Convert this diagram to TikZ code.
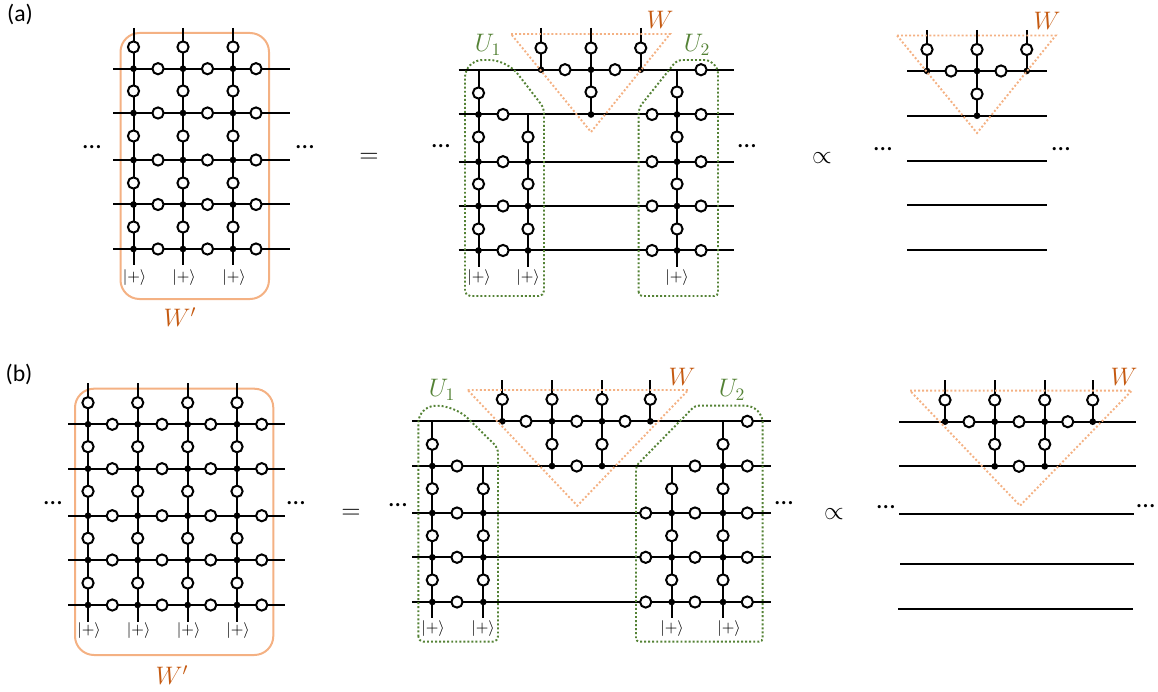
\documentclass[tikz,border=0pt]{standalone}
\usepackage{fontspec}
\setmainfont{Carlito}
\usetikzlibrary{positioning}
\definecolor{wlabel}{HTML}{C55A11}
\definecolor{wline}{HTML}{F4B183}
\definecolor{uline}{HTML}{548235}
\tikzset{
  wire/.style={line width=0.04cm,black},
  dot/.style={circle,fill=black,inner sep=0pt,minimum size=3.8pt},
  hollow/.style={circle,draw=black,fill=white,line width=0.04cm,inner sep=0pt,minimum size=6.4pt},
  wbox/.style={wline,line width=0.04cm,rounded corners=0.38cm},
  wtri/.style={wline,line width=1.1pt,dash pattern=on 1.1pt off 1.2pt},
  ubox/.style={uline,line width=1.1pt,dash pattern=on 1.1pt off 1.2pt},
  ket/.style={inner sep=0pt,font=\fontsize{9}{10}\selectfont},
  wname/.style={inner sep=0pt,text=wlabel,font=\fontsize{14.5}{17}\selectfont},
  uname/.style={inner sep=0pt,text=uline,font=\fontsize{14}{17}\selectfont},
  rel/.style={inner sep=0pt,font=\fontsize{13.5}{15}\selectfont},
  more/.style={inner sep=0pt,font=\fontsize{15}{17}\selectfont},
}
\begin{document}
\begin{tikzpicture}[x=0.02cm,y=-0.02cm]
    \useasboundingbox (0,0) rectangle (1158,692);

    \node [rel] (la) at (20,14) {(a)};
    \node [rel] (lb) at (19,374) {(b)};

    % (a) left
    \draw [wbox] (120.5,33) rectangle (269,299);
    \foreach \y [count=\i] in {68.7,113,160,204.5,249} {
        \coordinate (A1l\i) at (113,\y);
        \coordinate (A1r\i) at (290,\y);
        \draw [wire] (A1l\i) -- (A1r\i);
    }
    \foreach \x [count=\i] in {133.5,183,233} {
        \coordinate (A1t\i) at (\x,28);
        \coordinate (A1b\i) at (\x,265);
        \draw [wire] (A1t\i) -- (A1b\i);
        \node [ket] (A1k\i) at (\x+1,278) {$|{+}\rangle$};
        \foreach \y [count=\j] in {68.7,113,160,204.5,249}
            \node [dot] (A1d\i\j) at (\x,\y) {};
        \foreach \y [count=\j] in {47,91,136,183,227}
            \node [hollow] (A1v\i\j) at (\x,\y) {};
    }
    \foreach \x [count=\i] in {158,207.5,256}
        \foreach \y [count=\j] in {68.7,113,160,204.5,249}
            \node [hollow] (A1h\i\j) at (\x,\y) {};
    \node [wname] (A1w) at (180,317) {$W'$};
    \node [more] (A1m1) at (92,147) {…};
    \node [more] (A1m2) at (305,147) {…};
    \node [rel] (A1eq) at (369,158) {$=$};

    % (a) middle
    \foreach \y [count=\i] in {69.7,114.5,161.7,206,250.5} {
        \coordinate (A2l\i) at (458.5,\y);
        \coordinate (A2r\i) at (734,\y);
        \draw [wire] (A2l\i) -- (A2r\i);
    }
    \foreach \x/\ya/\yb [count=\i] in {478.5/69.7/267,528/114.5/267,541/28/69.7,591/28/114.5,640.7/28/69.7,677/69.7/267} {
        \coordinate (A2t\i) at (\x,\ya);
        \coordinate (A2b\i) at (\x,\yb);
        \draw [wire] (A2t\i) -- (A2b\i);
    }
    \foreach \x/\y [count=\i] in {478.5/114.5,478.5/161.7,478.5/206,478.5/250.5,528/161.7,528/206,528/250.5,541/69.7,591/69.7,640.7/69.7,591/114.5,677/114.5,677/161.7,677/206,677/250.5}
        \node [dot] (A2d\i) at (\x,\y) {};
    \foreach \x/\y [count=\i] in {478.5/93,478.5/137,478.5/184,478.5/229,528/137,528/184,528/229,541/48,591/48,591/92,640.7/48,677/92,677/137,677/184,677/229,503/114.5,503/161.7,503/206,503/250.5,565/69.7,615/69.7,652/114.5,652/161.7,652/206,652/250.5,701/69.7,701/114.5,701/161.7,701/206,701/250.5}
        \node [hollow] (A2h\i) at (\x,\y) {};
    \node [ket] (A2k1) at (479,278) {$|{+}\rangle$};
    \node [ket] (A2k2) at (528,278) {$|{+}\rangle$};
    \node [ket] (A2k3) at (677,278) {$|{+}\rangle$};
    \coordinate (A2a) at (511,34);
    \coordinate (A2b) at (670,34);
    \coordinate (A2c) at (591,132);
    \draw [wtri] (A2a) -- (A2b) -- (A2c) -- cycle;
    \draw [ubox] (465,296) [rounded corners=10pt] -- (465,60) -- (507,60) [rounded corners=3pt] -- (544,108) -- (544,296) -- cycle;
    \draw [ubox] (638.7,296) [rounded corners=3pt] -- (638.7,108) -- (677,60) [rounded corners=8pt] -- (718,60) [rounded corners=2pt] -- (718,296) -- cycle;
    \node [wname] (A2w) at (660,20) {$W$};
    \node [uname] (A2u1) at (488,45) {$U_1$};
    \node [uname] (A2u2) at (697,45) {$U_2$};
    \node [more] (A2m1) at (441,146) {…};
    \node [more] (A2m2) at (747,146) {…};
    \node [rel] (A2pr) at (822,158) {$\propto$};

    % (a) right
    \foreach \y [count=\i] in {71,115.7,160.7,205.3,250.3} {
        \coordinate (A3l\i) at (907,\y);
        \coordinate (A3r\i) at (1047,\y);
        \draw [wire] (A3l\i) -- (A3r\i);
    }
    \foreach \x/\yb [count=\i] in {927/71,977/115.7,1026.7/71} {
        \coordinate (A3t\i) at (\x,30);
        \coordinate (A3b\i) at (\x,\yb);
        \draw [wire] (A3t\i) -- (A3b\i);
        \node [dot] (A3d\i) at (\x,71) {};
        \node [hollow] (A3v\i) at (\x,49.5) {};
    }
    \node [dot] (A3d4) at (977,115.7) {};
    \node [hollow] (A3h1) at (977,94) {};
    \node [hollow] (A3h2) at (951,71) {};
    \node [hollow] (A3h3) at (1001,71) {};
    \coordinate (A3a) at (897,35.5);
    \coordinate (A3b) at (1055.7,35.5);
    \coordinate (A3c) at (977,133);
    \draw [wtri] (A3a) -- (A3b) -- (A3c) -- cycle;
    \node [wname] (A3w) at (1047,21) {$W$};
    \node [more] (A3m1) at (883,149) {…};
    \node [more] (A3m2) at (1061,149) {…};

    % (b) left
    \draw [wbox] (75,388.7) rectangle (273.3,655);
    \foreach \y [count=\i] in {424.3,468.7,515.7,560,605} {
        \coordinate (B1l\i) at (68,\y);
        \coordinate (B1r\i) at (284.5,\y);
        \draw [wire] (B1l\i) -- (B1r\i);
    }
    \foreach \x [count=\i] in {88,137.7,187.7,237} {
        \coordinate (B1t\i) at (\x,383);
        \coordinate (B1b\i) at (\x,621.7);
        \draw [wire] (B1t\i) -- (B1b\i);
        \node [ket] (B1k\i) at (\x+1,631) {$|{+}\rangle$};
        \foreach \y [count=\j] in {424.3,468.7,515.7,560,605}
            \node [dot] (B1d\i\j) at (\x,\y) {};
        \foreach \y [count=\j] in {402.7,446.7,491.3,538.3,583}
            \node [hollow] (B1v\i\j) at (\x,\y) {};
    }
    \foreach \x [count=\i] in {112.3,162,210.7,261.7}
        \foreach \y [count=\j] in {424.3,468.7,515.7,560,605}
            \node [hollow] (B1h\i\j) at (\x,\y) {};
    \node [wname] (B1w) at (172,675) {$W'$};
    \node [more] (B1m1) at (53,503) {…};
    \node [more] (B1m2) at (296,503) {…};
    \node [rel] (B1eq) at (351,514) {$=$};

    % (b) middle
    \foreach \y [count=\i] in {421.3,466,513,557.3,602} {
        \coordinate (B2l\i) at (412.3,\y);
        \coordinate (B2r\i) at (771,\y);
        \draw [wire] (B2l\i) -- (B2r\i);
    }
    \foreach \x/\ya/\yb [count=\i] in {432.3/421.3/618.3,483.3/466/618.3,502.3/380/421.3,552/380/466,602/380/466,650.3/380/421.3,671.7/466/618.3,723/421.3/618.3} {
        \coordinate (B2t\i) at (\x,\ya);
        \coordinate (B2b\i) at (\x,\yb);
        \draw [wire] (B2t\i) -- (B2b\i);
    }
    \foreach \x/\y [count=\i] in {432.3/466,432.3/513,432.3/557.3,432.3/602,483.3/513,483.3/557.3,483.3/602,502.3/421.3,552/421.3,602/421.3,650.3/421.3,552/466,602/466,671.7/513,671.7/557.3,671.7/602,723/466,723/513,723/557.3,723/602}
        \node [dot] (B2d\i) at (\x,\y) {};
    \foreach \x/\y [count=\i] in {432.3/444.3,432.3/488.7,432.3/535.7,432.3/580,483.3/488.7,483.3/535.7,483.3/580,502.3/399.3,552/399.3,552/444.3,602/399.3,602/444.3,650.3/399.3,671.7/488.7,671.7/535.7,671.7/580,723/444.3,723/488.7,723/535.7,723/580,457/466,457/513,457/557.3,457/602,526/421.3,576.7/421.3,625/421.3,576.7/466,645.7/513,645.7/557.3,645.7/602,695/466,695/513,695/557.3,695/602,747.3/421.3,747.3/466,747.3/513,747.3/557.3,747.3/602}
        \node [hollow] (B2h\i) at (\x,\y) {};
    \node [ket] (B2k1) at (433,629) {$|{+}\rangle$};
    \node [ket] (B2k2) at (483,629) {$|{+}\rangle$};
    \node [ket] (B2k3) at (672,629) {$|{+}\rangle$};
    \node [ket] (B2k4) at (729,629) {$|{+}\rangle$};
    \coordinate (B2a) at (467.7,390);
    \coordinate (B2b) at (688.3,390);
    \coordinate (B2c) at (577.3,505.7);
    \draw [wtri] (B2a) -- (B2b) -- (B2c) -- cycle;
    \draw [ubox] (418.3,641.7) [rounded corners=10pt] -- (418.3,405.7) -- (455,405.7) [rounded corners=3pt] -- (498,448) -- (498,641.7) -- cycle;
    \draw [ubox] (636,641.7) [rounded corners=2pt] -- (636,466) -- (695,405.7) [rounded corners=10pt] -- (762.7,405.7) [rounded corners=2pt] -- (762.7,641.7) -- cycle;
    \node [wname] (B2w) at (682,377) {$W$};
    \node [uname] (B2u1) at (442,390) {$U_1$};
    \node [uname] (B2u2) at (732,390) {$U_2$};
    \node [more] (B2m1) at (398,505) {…};
    \node [more] (B2m2) at (784,503) {…};
    \node [rel] (B2pr) at (834,514) {$\propto$};

    % (b) right
    \foreach \xa/\xb/\y [count=\i] in {899.3/1135.7/421.7,899.3/1135.7/466.3,899.3/1134/513.7,900/1134/564.3,898/1133/609} {
        \coordinate (B3l\i) at (\xa,\y);
        \coordinate (B3r\i) at (\xb,\y);
        \draw [wire] (B3l\i) -- (B3r\i);
    }
    \foreach \x/\yb [count=\i] in {945/421.7,994.7/466.3,1044.7/466.3,1092.7/421.7} {
        \coordinate (B3t\i) at (\x,380);
        \coordinate (B3b\i) at (\x,\yb);
        \draw [wire] (B3t\i) -- (B3b\i);
        \node [dot] (B3d\i) at (\x,421.7) {};
        \node [hollow] (B3v\i) at (\x,400) {};
    }
    \node [dot] (B3d5) at (994.7,466.3) {};
    \node [dot] (B3d6) at (1044.7,466.3) {};
    \foreach \x/\y [count=\i] in {994.7/444.3,1044.7/444.3,969/421.7,1019/421.7,1067.7/421.7,1019/466.3}
        \node [hollow] (B3h\i) at (\x,\y) {};
    \coordinate (B3a) at (910,390.7);
    \coordinate (B3b) at (1131.7,390.7);
    \coordinate (B3c) at (1020,505.7);
    \draw [wtri] (B3a) -- (B3b) -- (B3c) -- cycle;
    \node [wname] (B3w) at (1124,377) {$W$};
    \node [more] (B3m1) at (886,507) {…};
    \node [more] (B3m2) at (1145.7,506) {…};
\end{tikzpicture}
\end{document}
